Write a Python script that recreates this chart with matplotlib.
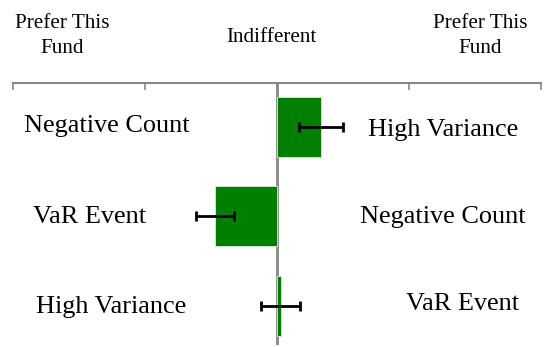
import matplotlib.pyplot as plt

# rows from top to bottom
left_labels = ['Negative Count', 'VaR Event', 'High Variance']
right_labels = ['High Variance', 'Negative Count', 'VaR Event']
values = [0.333, -0.47, 0.027]
errors = [0.167, 0.146, 0.148]
ticks = [-2, -1, 0, 1, 2]

plt.rcParams['font.family'] = 'Liberation Serif'

fig = plt.figure(figsize=(5.48, 3.47), dpi=100)
ax = fig.add_axes([13 / 548, 2 / 347, 528 / 548, 262 / 347])

rows = list(range(len(values)))
ax.barh(rows, values, height=0.67, color='#007f00', edgecolor='#d8ecd8', linewidth=0.6, zorder=2)
ax.errorbar(values, rows, xerr=errors, fmt='none', ecolor='black', elinewidth=2,
            capsize=3.8, capthick=2, zorder=3)
ax.axvline(0, color='#888888', linewidth=2, zorder=1)

ax.set_xlim(-2, 2)
ax.set_ylim(2.44, -0.49)

ax.xaxis.tick_top()
ax.set_xticks(ticks)
ax.tick_params(axis='x', direction='in', length=5, width=1.2, color='#888888', labeltop=False)
ax.set_yticks([])
for s in ['left', 'right', 'bottom']:
    ax.spines[s].set_visible(False)
ax.spines['top'].set_color('#888888')
ax.spines['top'].set_linewidth(1.5)

left_x = [-1.288, -1.417, -1.258]
left_dy = [-0.01, 0.01, 0.01]
right_x = [1.258, 1.258, 1.409]
right_dy = [0.04, 0.01, -0.02]
for i in rows:
    ax.text(left_x[i], i + left_dy[i], left_labels[i], ha='center', va='center', fontsize=18.9)
    ax.text(right_x[i], i + right_dy[i], right_labels[i], ha='center', va='center', fontsize=18.9)

fig.text(62 / 548, 1 - 36 / 347, 'Prefer This\nFund', ha='center', va='center', fontsize=15.2, linespacing=1.4)
fig.text(271 / 548, 1 - 38 / 347, 'Indifferent', ha='center', va='center', fontsize=15.2)
fig.text(480 / 548, 1 - 36 / 347, 'Prefer This\nFund', ha='center', va='center', fontsize=15.2, linespacing=1.4)

fig.savefig('out.png', dpi=100)
